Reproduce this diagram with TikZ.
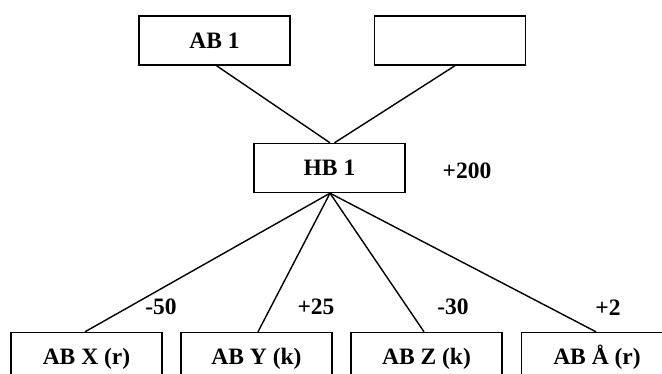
\documentclass[tikz,border=0pt]{standalone}
\usepackage{fontspec}
\setmainfont{Liberation Serif}
\begin{document}
\begin{tikzpicture}[x=1pt,y=-1pt,
  box/.style={draw,line width=1.4pt,rectangle,minimum width=151pt,minimum height=49pt,inner sep=0pt,text height=17pt,text depth=1.5pt,font=\fontsize{23.5}{28}\selectfont\bfseries},
  lbl/.style={inner sep=0pt,text height=17pt,text depth=1.5pt,font=\fontsize{23.5}{28}\selectfont\bfseries},
  conn/.style={line width=1.4pt}]
\useasboundingbox (0,0) rectangle (662,374);
\clip (0,0) rectangle (662,374);
\node[box] (ab1) at (214.5,40.5) {AB 1};
\node[box] (empty) at (450,40.5) {};
\node[box] (hb1) at (329.5,168) {HB 1};
\node[lbl] (p200) at (467,171) {+200};
\node[box] (abx) at (86.5,357) {AB X (r)};
\node[box] (aby) at (256.5,357) {AB Y (k)};
\node[box] (abz) at (426.5,357) {AB Z (k)};
\node[box] (aba) at (597,357) {AB Å (r)};
\node[lbl] (m50) at (161,307) {-50};
\node[lbl] (p25) at (316,307) {+25};
\node[lbl] (m30) at (453,307) {-30};
\node[lbl] (p2) at (608,308) {+2};
\draw[conn] ([xshift=2pt]ab1.south) -- ([xshift=0.5pt]hb1.north);
\draw[conn] ([xshift=5pt]empty.south) -- ([xshift=5pt]hb1.north);
\draw[conn] ([xshift=0.5pt]hb1.south) -- ([xshift=-1.5pt]abx.north);
\draw[conn] ([xshift=0.5pt]hb1.south) -- ([xshift=1.5pt]aby.north);
\draw[conn] ([xshift=0.5pt]hb1.south) -- ([xshift=-2.5pt]abz.north);
\draw[conn] ([xshift=0.5pt]hb1.south) -- ([xshift=-1pt]aba.north);
\end{tikzpicture}
\end{document}
